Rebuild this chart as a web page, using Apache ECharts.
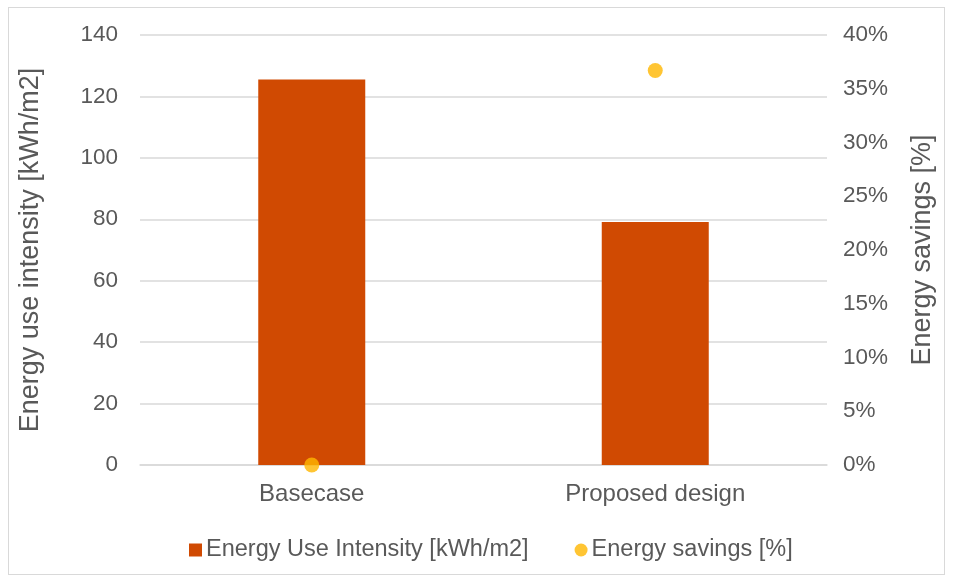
<!DOCTYPE html>
<html><head><meta charset="utf-8">
<script src="https://cdn.jsdelivr.net/npm/echarts@6/dist/echarts.min.js"></script>
<style>html,body{margin:0;padding:0;background:#fff}
#frame{position:absolute;left:8px;top:7px;width:937px;height:568px;border:1px solid #d9d9d9;box-sizing:border-box}
#c{position:absolute;left:0;top:0;width:954px;height:580px}</style>
</head><body><div id="frame"></div><div id="c"></div>
<script>
const categories = ['Basecase', 'Proposed design'];
const euiValues = [125.5, 79.1];
const savingsValues = [0, 36.7];
const leftTicks = [0, 140, 20];
const rightTicks = [0, 40, 5];
const seriesNames = ['Energy Use Intensity [kWh/m2]', 'Energy savings [%]'];

const font = 'Liberation Sans, Arial, sans-serif';
const txt = '#595959';
const chart = echarts.init(document.getElementById('c'));
chart.setOption({
  animation: false,
  textStyle: {fontFamily: font},
  grid: {left: 140, right: 127, top: 35, bottom: 115},
  legend: {
    top: 533, left: 184, itemGap: 46, itemWidth: 13, itemHeight: 13,
    textStyle: {fontSize: 23.5, color: txt, fontFamily: font, padding: [0, 0, 0, -1]},
    data: [{name: seriesNames[0], icon: 'rect'}, {name: seriesNames[1], icon: 'circle'}]
  },
  xAxis: {
    type: 'category', data: categories,
    axisLine: {lineStyle: {color: '#d9d9d9', width: 1.5}},
    axisTick: {show: false},
    axisLabel: {fontSize: 24, color: txt, margin: 17, fontFamily: font}
  },
  yAxis: [{
    type: 'value', min: leftTicks[0], max: leftTicks[1], interval: leftTicks[2],
    name: 'Energy use intensity [kWh/m2]', nameLocation: 'middle', nameGap: 96,
    nameTextStyle: {fontSize: 27, color: txt, fontFamily: font},
    axisLabel: {fontSize: 22.5, color: txt, margin: 22, fontFamily: font},
    splitLine: {lineStyle: {color: '#d9d9d9', width: 1.5}},
    axisLine: {show: false}, axisTick: {show: false}
  }, {
    type: 'value', min: rightTicks[0], max: rightTicks[1], interval: rightTicks[2],
    name: 'Energy savings [%]', nameLocation: 'middle', nameGap: 82, nameRotate: 90,
    nameTextStyle: {fontSize: 27, color: txt, fontFamily: font},
    axisLabel: {fontSize: 22.5, color: txt, margin: 16, formatter: '{value}%', fontFamily: font},
    splitLine: {show: false}, axisLine: {show: false}, axisTick: {show: false}
  }],
  series: [{
    name: seriesNames[0], type: 'bar', data: euiValues, barWidth: 107,
    itemStyle: {color: '#D04A02'}, yAxisIndex: 0
  }, {
    name: seriesNames[1], type: 'scatter', data: savingsValues, yAxisIndex: 1,
    symbol: 'circle', symbolSize: 15, itemStyle: {color: '#FFB600'}, z: 5
  }]
});
</script></body></html>
